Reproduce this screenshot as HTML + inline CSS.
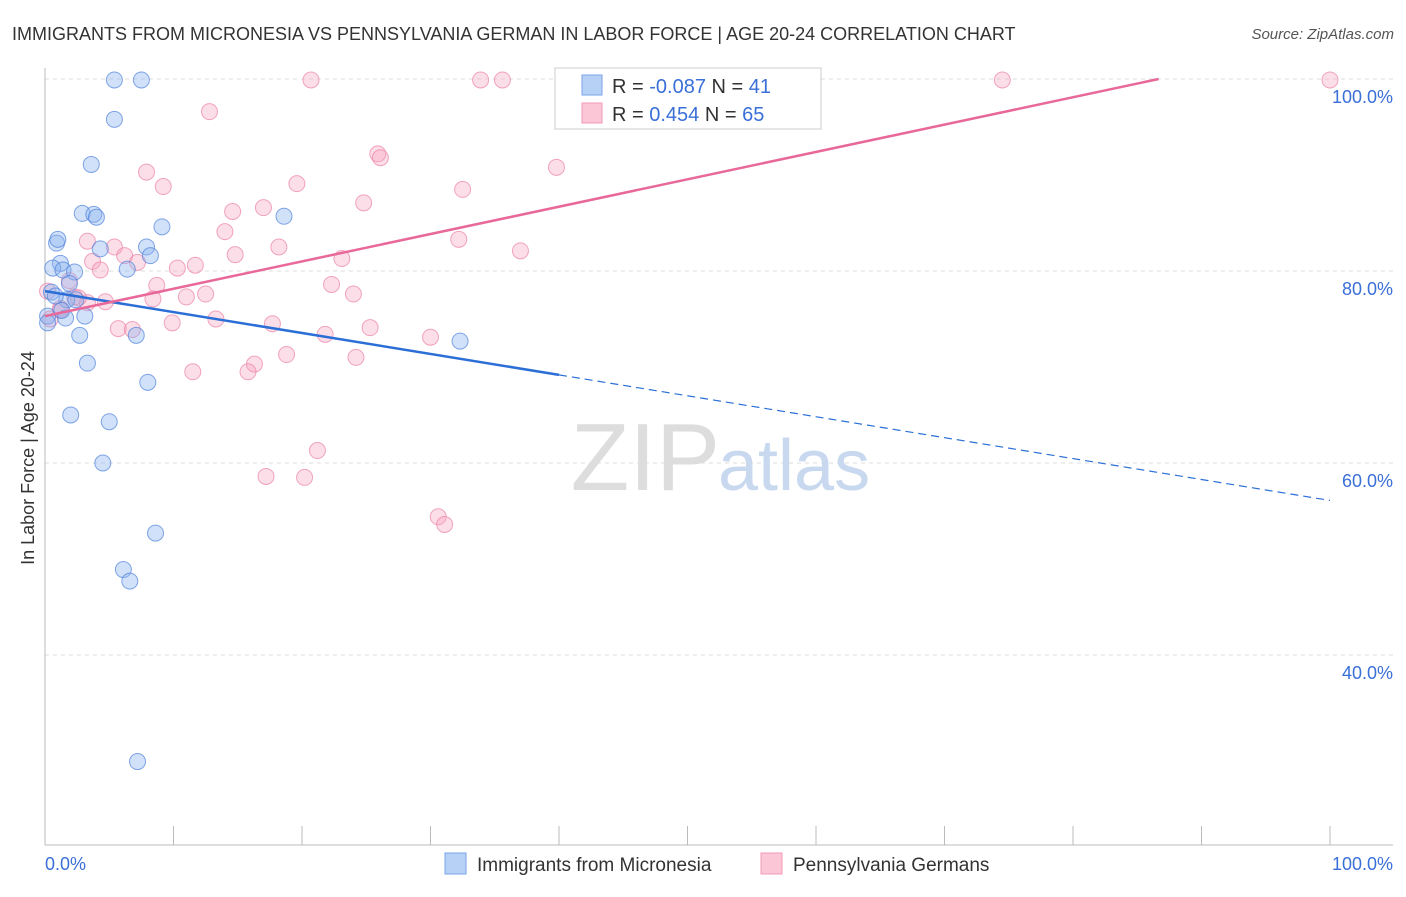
<!DOCTYPE html>
<html><head><meta charset="utf-8"><style>
body{margin:0;background:#fff;font-family:"Liberation Sans",sans-serif;}
svg text{font-family:"Liberation Sans",sans-serif;}
</style></head><body>
<svg id="chart" width="1406" height="892">
<text x="12" y="40" font-size="18" fill="#333">IMMIGRANTS FROM MICRONESIA VS PENNSYLVANIA GERMAN IN LABOR FORCE | AGE 20-24 CORRELATION CHART</text>
<text x="1394" y="39" font-size="15" fill="#555" text-anchor="end" font-style="italic">Source: ZipAtlas.com</text>
<text x="34" y="458" font-size="18" fill="#333" text-anchor="middle" transform="rotate(-90 34 458)">In Labor Force | Age 20-24</text>
<g id="grid"></g>
<text x="720" y="490" font-size="96" fill="#ddd" text-anchor="end" font-family="Liberation Serif">ZIP</text>
<text x="718" y="490" font-size="72" fill="#c8d8ef">atlas</text>
<g id="pts"></g>
<g id="lines"></g>
<g>
<rect x="555" y="68" width="266" height="61" fill="#fff" stroke="#ccc"/>
<rect x="582" y="75" width="20" height="20" fill="#b7d0f5" stroke="#7aa5e8"/>
<rect x="582" y="103" width="20" height="20" fill="#fbc7d6" stroke="#f09ab5"/>
<text x="612" y="93" font-size="20" fill="#333">R = <tspan fill="#3a6fd8">-0.087</tspan>    N =  <tspan fill="#3a6fd8">41</tspan></text>
<text x="612" y="121" font-size="20" fill="#333">R =  <tspan fill="#3a6fd8"> 0.454</tspan>    N = <tspan fill="#3a6fd8">65</tspan></text>
</g>
<g>
<rect x="445" y="853" width="21" height="21" fill="#b7d0f5" stroke="#7aa5e8"/>
<text x="477" y="871" font-size="19" fill="#333">Immigrants from Micronesia</text>
<rect x="761" y="853" width="21" height="21" fill="#fbc7d6" stroke="#f09ab5"/>
<text x="793" y="871" font-size="19" fill="#333">Pennsylvania Germans</text>
</g>
</svg>
<script>
const yTicks=[40,60,80,100];
const yTickLabels=["40.0%","60.0%","80.0%","100.0%"];
const xEndLabels=["0.0%","100.0%"];
const blueX=[5.4,7.5,5.4,3.6,2.9,3.8,4.0,18.6,9.1,0.9,1.0,7.9,4.3,8.2,1.2,0.6,1.4,2.3,6.4,1.9,0.5,1.7,2.4,0.2,1.6,3.1,2.7,7.1,32.3,3.3,8.0,2.0,5.0,4.5,8.6,6.1,6.6,7.2,0.2,1.3,0.8];
const blueY=[99.9,99.9,95.8,91.1,86.0,85.9,85.6,85.7,84.6,82.9,83.3,82.5,82.3,81.6,80.8,80.3,80.1,79.9,80.2,78.7,77.8,77.0,77.0,75.3,75.1,75.3,73.3,73.3,72.7,70.4,68.4,65.0,64.3,60.0,52.7,48.9,47.7,28.9,74.6,75.9,77.4];
const pinkX=[20.7,33.9,35.6,46.8,58.5,74.5,100,12.8,25.9,26.1,39.8,7.9,9.2,19.6,32.5,24.8,17.0,14.6,14.0,32.2,3.3,5.4,37.0,18.2,14.8,6.2,3.7,7.2,23.1,11.7,10.3,4.3,8.7,22.3,1.9,12.5,11.0,8.4,24.0,4.7,1.2,0.4,13.3,9.9,17.7,5.7,6.8,25.3,21.8,30.0,18.8,24.2,16.3,15.8,11.5,21.2,17.2,20.2,30.6,31.1,2.3,3.3,0.2,1.2,2.6];
const pinkY=[99.9,99.9,99.9,99.9,99.9,99.9,99.9,96.6,92.2,91.8,90.8,90.3,88.8,89.1,88.5,87.1,86.6,86.2,84.1,83.3,83.1,82.5,82.1,82.5,81.7,81.6,81.0,80.9,81.3,80.6,80.3,80.1,78.5,78.6,79.0,77.6,77.3,77.1,77.6,76.8,76.1,75.0,75.0,74.6,74.5,74.0,73.9,74.1,73.4,73.1,71.3,71.0,70.3,69.5,69.5,61.3,58.6,58.5,54.4,53.6,77.3,76.7,77.9,75.9,77.2];
const blueTrend=[77.9,56.1]; // y at x=0 and x=100
const blueSolidEnd=40;
const pinkTrend=[75.3,103.8];
const NS='http://www.w3.org/2000/svg';
const X=v=>45+v*12.85, Y=v=>1039-v*9.6;
function mk(t,a,p){const e=document.createElementNS(NS,t);for(const k in a)e.setAttribute(k,a[k]);p.appendChild(e);return e;}
const grid=document.getElementById('grid');
yTicks.forEach((t,i)=>{
 const l=mk('line',{x1:45,x2:1393,y1:Y(t),y2:Y(t),stroke:'#ddd','stroke-dasharray':'4 4'},grid);
 
 
 const tx=mk('text',{x:1393,y:Y(t)+24,'font-size':18,fill:'#3a6fd8','text-anchor':'end'},grid);
 tx.textContent=yTickLabels[i];
 
 
});
const ax=mk('line',{x1:45,x2:45,y1:68,y2:845,stroke:'#bbb'},grid);


const bx=mk('line',{x1:45,x2:1393,y1:845,y2:845,stroke:'#bbb'},grid);


for(let i=0;i<=10;i++){const t=mk('line',{x1:X(i*10),x2:X(i*10),y1:826,y2:845,stroke:'#bbb'},grid);
 
 }
xEndLabels.forEach((s,i)=>{const t=mk('text',{x:i?1393:45,y:870,'font-size':18,fill:'#3a6fd8','text-anchor':i?'end':'start'},grid);t.textContent=s;
 
 });
const pts=document.getElementById('pts');
pinkX.forEach((v,i)=>{const c=mk('circle',{cx:X(v),cy:Y(pinkY[i]),r:8,fill:'rgba(245,160,190,0.35)',stroke:'rgba(235,130,165,0.7)'},pts);
 
 });
blueX.forEach((v,i)=>{const c=mk('circle',{cx:X(v),cy:Y(blueY[i]),r:8,fill:'rgba(140,180,240,0.4)',stroke:'rgba(80,130,220,0.7)'},pts);
 
 });
const lines=document.getElementById('lines');
const by=x=>blueTrend[0]+(blueTrend[1]-blueTrend[0])*x/100;
const b1=mk('line',{x1:X(0),y1:Y(by(0)),x2:X(blueSolidEnd),y2:Y(by(blueSolidEnd)),stroke:'#2b6fd6','stroke-width':2.5},lines);


const b2=mk('line',{x1:X(blueSolidEnd),y1:Y(by(blueSolidEnd)),x2:X(100),y2:Y(by(100)),stroke:'#2b6fd6','stroke-width':1.2,'stroke-dasharray':'8 5'},lines);


const slope=(pinkTrend[1]-pinkTrend[0])/100;
const xEnd=Math.min(100,(100-pinkTrend[0])/slope);
const p=mk('line',{x1:X(0),y1:Y(pinkTrend[0]),x2:X(xEnd),y2:Y(pinkTrend[0]+slope*xEnd),stroke:'#e8689a','stroke-width':2.5},lines);


</script>
</body></html>
